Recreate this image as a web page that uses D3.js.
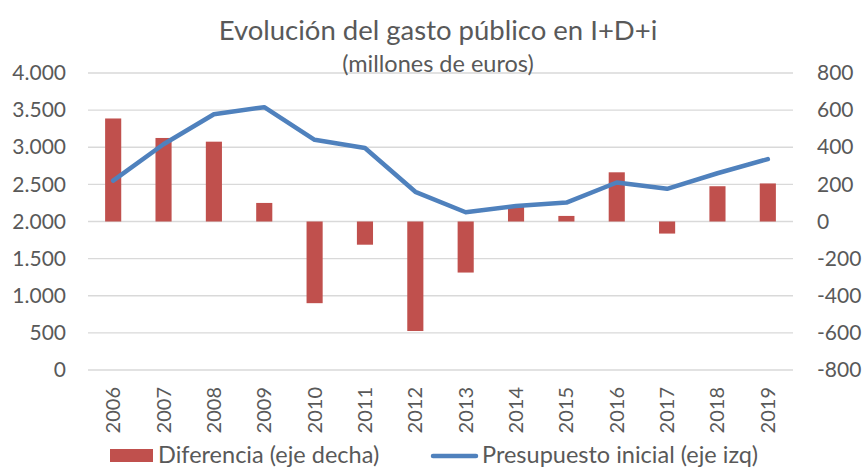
<!DOCTYPE html>
<html>
<head>
<meta charset="utf-8">
<script src="https://cdn.jsdelivr.net/npm/d3@7"></script>
<style>
  body { margin: 0; background: #fff; }
  text { font-family: Lato, "Open Sans", sans-serif; fill: #595959; }
</style>
</head>
<body>
<svg id="chart" width="863" height="469"></svg>
<script>
// data
const years = ["2006","2007","2008","2009","2010","2011","2012","2013","2014","2015","2016","2017","2018","2019"];
const diferencia = [555, 450, 430, 100, -440, -125, -590, -275, 85, 30, 265, -65, 190, 205];
const presupuesto = [2550, 3040, 3445, 3540, 3100, 2990, 2400, 2125, 2210, 2255, 2525, 2440, 2650, 2840];
const leftTicks = [0, 500, 1000, 1500, 2000, 2500, 3000, 3500, 4000];
const rightTicks = [-800, -600, -400, -200, 0, 200, 400, 600, 800];

const width = 863, height = 469,
      margin = {top: 73, right: 70, bottom: 99, left: 88};

const svg = d3.select("svg#chart");

const x = d3.scaleBand()
    .domain(years)
    .range([margin.left, width - margin.right])
    .paddingInner(0.68)
    .paddingOuter(0.34);

const yLeft = d3.scaleLinear().domain([0, 4000]).range([height - margin.bottom, margin.top]);
const yRight = d3.scaleLinear().domain([-800, 800]).range([height - margin.bottom, margin.top]);

const fmt = d3.formatLocale({decimal: ",", thousands: ".", grouping: [3], currency: ["", "€"]}).format(",d");

// gridlines
svg.append("g")
    .attr("class", "grid")
    .selectAll("line")
    .data(leftTicks)
    .join("line")
    .attr("x1", margin.left)
    .attr("x2", width - margin.right)
    .attr("y1", d => yLeft(d))
    .attr("y2", d => yLeft(d))
    .attr("stroke", "#d9d9d9")
    .attr("stroke-width", 1.3);

// left axis
const axL = svg.append("g")
    .attr("transform", `translate(${margin.left - 22},0)`)
    .call(d3.axisLeft(yLeft).tickValues(leftTicks).tickFormat(fmt).tickSize(0).tickPadding(0));
axL.select(".domain").remove();
axL.selectAll("text")
    .attr("font-size", 21)
    .attr("font-family", null)
    .attr("fill", "#595959");

// right axis
const axR = svg.append("g")
    .attr("transform", `translate(${width - margin.right + 24},0)`)
    .call(d3.axisRight(yRight).tickValues(rightTicks).tickFormat(d => d).tickSize(0).tickPadding(0));
axR.select(".domain").remove();
axR.selectAll("text")
    .attr("font-size", 21)
    .attr("font-family", null)
    .attr("fill", "#595959");

// bars (right axis)
svg.append("g")
    .selectAll("rect")
    .data(years)
    .join("rect")
    .attr("x", d => x(d))
    .attr("width", x.bandwidth())
    .attr("y", (d, i) => yRight(Math.max(0, diferencia[i])))
    .attr("height", (d, i) => Math.abs(yRight(diferencia[i]) - yRight(0)))
    .attr("fill", "#c0504d");

// line (left axis)
const line = d3.line()
    .x((d, i) => x(years[i]) + x.bandwidth() / 2)
    .y(d => yLeft(d));

svg.append("path")
    .datum(presupuesto)
    .attr("d", line)
    .attr("fill", "none")
    .attr("stroke", "#4f81bd")
    .attr("stroke-width", 4.5)
    .attr("stroke-linejoin", "round")
    .attr("stroke-linecap", "round");

// year labels
svg.append("g")
    .selectAll("text")
    .data(years)
    .join("text")
    .attr("transform", d => `translate(${x(d) + x.bandwidth() / 2},387) rotate(-90)`)
    .attr("text-anchor", "end")
    .attr("dy", "0.35em")
    .attr("font-size", 20)
    .text(d => d);

// titles
svg.append("text")
    .attr("x", 438)
    .attr("y", 40)
    .attr("text-anchor", "middle")
    .attr("font-size", 27.5)
    .text("Evolución del gasto público en I+D+i");

svg.append("text")
    .attr("x", 438)
    .attr("y", 72)
    .attr("text-anchor", "middle")
    .attr("font-size", 23.5)
    .text("(millones de euros)");

// legend
const legend = svg.append("g").attr("class", "legend");
legend.append("rect")
    .attr("x", 110).attr("y", 449)
    .attr("width", 43).attr("height", 13)
    .attr("fill", "#c0504d");
legend.append("text")
    .attr("x", 158).attr("y", 463)
    .attr("font-size", 23.5)
    .text("Diferencia (eje decha)");
legend.append("line")
    .attr("x1", 433).attr("x2", 476)
    .attr("y1", 456).attr("y2", 456)
    .attr("stroke", "#4f81bd")
    .attr("stroke-width", 4.5)
    .attr("stroke-linecap", "round");
legend.append("text")
    .attr("x", 482).attr("y", 463)
    .attr("font-size", 23.5)
    .text("Presupuesto inicial (eje izq)");
</script>
</body>
</html>
